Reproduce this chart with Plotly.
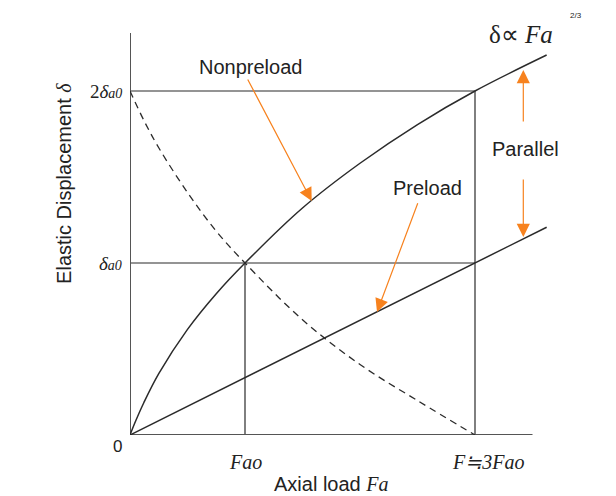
import plotly.graph_objects as go

# ---- data (x in units of Fao, y in units of δa0) ----
nonpreload_x = [0.0, 0.05, 0.12, 0.25, 0.5, 0.75, 1.0, 1.5, 2.0, 2.5, 3.0, 3.623]
nonpreload_y = [0.0, 0.0825, 0.1875, 0.3565, 0.614, 0.8215, 1.0, 1.32, 1.58, 1.805, 2.0, 2.209]

preload_x = [0.0, 3.0, 3.623]
preload_y = [0.0, 1.0, 1.208]

opposite_x = [0.0, 0.12, 0.25, 0.5, 0.75, 1.0, 1.5, 2.0, 2.5, 3.0]
opposite_y = [2.0, 1.83, 1.67, 1.41, 1.185, 1.0, 0.67, 0.41, 0.2, 0.0]

# reference guide lines (None separates segments)
guide_x = [0, 3, None, 0, 3, None, 1, 1, None, 3, 3]
guide_y = [1, 1, None, 2, 2, None, 0, 1, None, 0, 2]

axis_x_max = 3.5
axis_y_max = 2.337

x_tick_vals = [1, 3]
x_tick_text = ["<i>Fao</i>", "<i>F≒3Fao</i>"]
y_tick_vals = [1, 2]
y_tick_text = ["<i>δ</i><span style='font-size:14px'><i>a0</i></span>",
               "2<i>δ</i><span style='font-size:14px'><i>a0</i></span>"]

LINE = "#2b2b2b"
AXIS = "#555555"
ORANGE = "#f7821e"
SANS = "Liberation Sans, Arial, sans-serif"
SERIF = "Liberation Serif, Times New Roman, serif"

fig = go.Figure()

fig.add_trace(go.Scatter(x=guide_x, y=guide_y, mode="lines",
                         line=dict(color=LINE, width=1.2), hoverinfo="skip"))
fig.add_trace(go.Scatter(x=[0, axis_x_max, None, 0, 0],
                         y=[0, 0, None, 0, axis_y_max], mode="lines",
                         line=dict(color=AXIS, width=2), hoverinfo="skip"))
fig.add_trace(go.Scatter(x=nonpreload_x, y=nonpreload_y, mode="lines",
                         line=dict(color=LINE, width=1.5, shape="spline", smoothing=1.0)))
fig.add_trace(go.Scatter(x=preload_x, y=preload_y, mode="lines",
                         line=dict(color=LINE, width=1.5)))
fig.add_trace(go.Scatter(x=opposite_x, y=opposite_y, mode="lines",
                         line=dict(color=LINE, width=1.3, dash="7px,5px",
                                   shape="spline", smoothing=1.0)))

ann = []
# tick labels
for v, t in zip(x_tick_vals, x_tick_text):
    ann.append(dict(x=v, y=0, xref="x", yref="y", text=t, showarrow=False,
                    xanchor="center", yanchor="top", yshift=-14,
                    xshift=0 if v == 1 else 13,
                    font=dict(family=SERIF, size=20, color="#222")))
for v, t in zip(y_tick_vals, y_tick_text):
    ann.append(dict(x=0, y=v, xref="x", yref="y", text=t, showarrow=False,
                    xanchor="right", yanchor="middle", xshift=-6,
                    font=dict(family=SERIF, size=19, color="#222")))
ann.append(dict(x=0, y=0, xref="x", yref="y", text="0", showarrow=False,
                xanchor="right", yanchor="top", xshift=-6, yshift=0,
                font=dict(family=SANS, size=17, color="#222")))
# axis titles
ann.append(dict(x=1.755, y=0, xref="x", yref="y", text="Axial load <span style='font-family:Liberation Serif'><i>Fa</i></span>",
                showarrow=False, xanchor="center", yanchor="middle", yshift=-49,
                font=dict(family=SANS, size=20, color="#222")))
ann.append(dict(x=0, y=1.46, xref="x", yref="y",
                text="Elastic Displacement <span style='font-family:Liberation Serif'><i>δ</i></span>",
                showarrow=False, textangle=-90, xanchor="center", yanchor="middle",
                xshift=-66, font=dict(family=SANS, size=20, color="#222")))
# labels
ann.append(dict(x=1.048, y=2.14, xref="x", yref="y", text="Nonpreload", showarrow=False,
                font=dict(family=SANS, size=20, color="#222")))
ann.append(dict(x=2.59, y=1.436, xref="x", yref="y", text="Preload", showarrow=False,
                font=dict(family=SANS, size=20, color="#222")))
ann.append(dict(x=3.435, y=1.663, xref="x", yref="y", text="Parallel", showarrow=False,
                font=dict(family=SANS, size=20, color="#222")))
ann.append(dict(x=3.40, y=2.331, xref="x", yref="y", text="δ∝ <i>Fa</i>", showarrow=False,
                font=dict(family=SERIF, size=25, color="#222")))
ann.append(dict(x=3.88, y=2.44, xref="x", yref="y", text="2/3", showarrow=False,
                font=dict(family=SANS, size=8, color="#222")))
# orange arrows (tip, tail)
arrows = [((1.58, 1.36), (1.017, 2.076)),
          ((2.148, 0.715), (2.507, 1.356)),
          ((3.42, 2.122), (3.42, 1.814)),
          ((3.42, 1.151), (3.42, 1.494))]
for (tx, ty), (sx, sy) in arrows:
    ann.append(dict(x=tx, y=ty, ax=sx, ay=sy, xref="x", yref="y", axref="x", ayref="y",
                    text="", showarrow=True, arrowhead=2, arrowsize=2.2, arrowwidth=1.2,
                    arrowcolor=ORANGE))

# the page body adds an 8px offset, so the figure is 8px smaller than the window
fig.update_layout(
    width=608, height=488,
    margin=dict(l=122, r=26, t=2, b=61),
    paper_bgcolor="white", plot_bgcolor="white",
    showlegend=False,
    xaxis=dict(range=[0, 4], visible=False),
    yaxis=dict(range=[0, 425 / 172], visible=False),
    annotations=ann,
)

fig.write_html("out.html")
